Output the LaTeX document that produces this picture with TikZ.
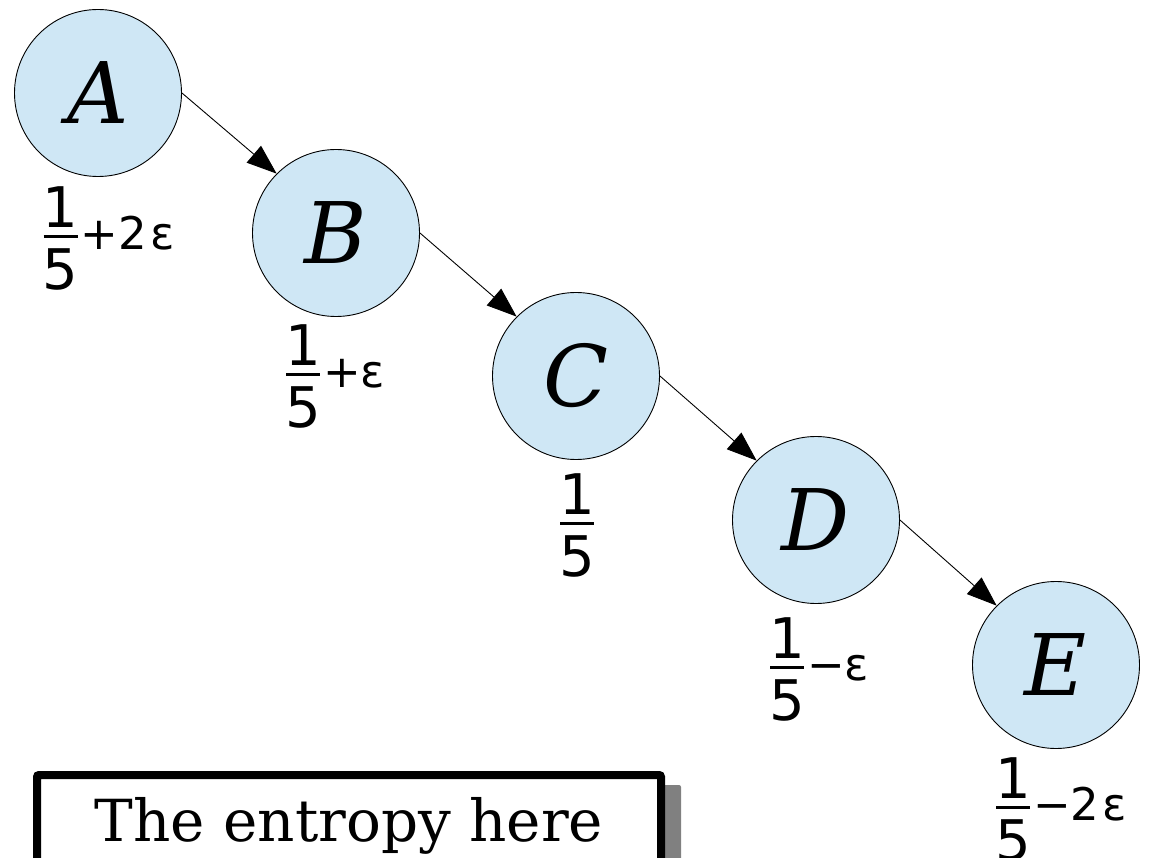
\documentclass[tikz,border=0pt]{standalone}
\usepackage{fontspec}
\newfontfamily\lblfont{DejaVu Sans}
\newfontfamily\serfont{DejaVu Serif}
\usetikzlibrary{arrows.meta}
\definecolor{nodefill}{HTML}{CFE7F5}
\definecolor{shadowgray}{HTML}{808080}
\tikzset{
  state/.style={circle, draw=black, line width=0.9pt, fill=nodefill, minimum size=167pt, inner sep=0pt,
    font=\serfont\itshape\fontsize{85}{90}\selectfont},
  edge/.style={line width=0.9pt, -{Triangle[length=30pt,width=22pt]}},
  num/.style={font=\lblfont\fontsize{56}{60}\selectfont, inner sep=0pt, anchor=base},
  sfx/.style={font=\lblfont\fontsize{45}{48}\selectfont, inner sep=0pt, anchor=base west},
  fbar/.style={line width=3pt},
  notebox/.style={draw=black, line width=8pt, fill=white, rounded corners=2pt},
  noteshadow/.style={fill=shadowgray, rounded corners=2pt},
  notetext/.style={font=\serfont\fontsize{58}{60}\selectfont, inner sep=0pt, anchor=base},
}
\newcommand\mkfrac[4]{%
  \coordinate (#1-bl) at (#2-17,#3);
  \coordinate (#1-br) at (#2+17,#3);
  \draw[fbar] (#1-bl) -- (#1-br);
  \node[num] (#1-n) at (#2,#3-9) {1};
  \node[num] (#1-d) at (#2,#3+53) {5};
  \node[sfx] (#1-s) at (#2+20,#3+13) {#4};
}
\begin{document}
\begin{tikzpicture}[x=1pt,y=-1pt]
  \useasboundingbox (0,0) rectangle (1149,858);
  % nodes
  \node[state] (A) at (98,93) {A};
  \node[state] (B) at (336,233) {B};
  \node[state] (C) at (576,376) {C};
  \node[state] (D) at (816,520) {D};
  \node[state] (E) at (1056,665) {E};
  % edges
  \draw[edge] (A.east) -- (B.north west);
  \draw[edge] (B.east) -- (C.north west);
  \draw[edge] (C.east) -- (D.north west);
  \draw[edge] (D.east) -- (E.north west);
  % labels
  \mkfrac{la}{60.5}{237}{+2\hspace{3pt}ε}
  \mkfrac{lb}{303}{375}{+ε}
  \mkfrac{lc}{577}{523}{}
  \mkfrac{ld}{787}{667}{−ε}
  \mkfrac{le}{1013}{807}{−2\hspace{3pt}ε}
  % note box
  \coordinate (sh1) at (49,785);
  \coordinate (sh2) at (681,900);
  \fill[noteshadow] (sh1) rectangle (sh2);
  \coordinate (nb1) at (37,775);
  \coordinate (nb2) at (661,920);
  \draw[notebox] (nb1) rectangle (nb2);
  \node[notetext] (note) at (349,841) {The entropy here};
\end{tikzpicture}
\end{document}
